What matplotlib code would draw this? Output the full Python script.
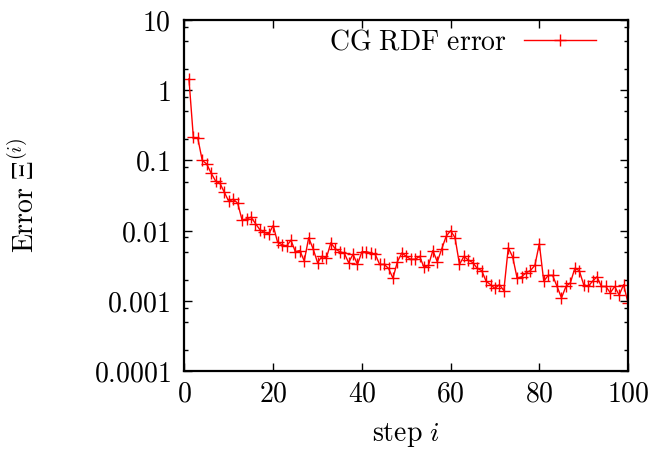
import matplotlib
matplotlib.use("Agg")
import matplotlib.pyplot as plt
from matplotlib.ticker import FixedLocator, FixedFormatter, LogLocator, NullFormatter, NullLocator

# values, steps 1..100
steps = list(range(1, 101))
rdf_error = [
    1.45, 0.212, 0.207, 0.100, 0.089, 0.066, 0.051, 0.047, 0.035, 0.026,
    0.028, 0.0245, 0.0140, 0.0147, 0.0155, 0.0126, 0.0103, 0.0094, 0.0090, 0.0118,
    0.0068, 0.0063, 0.0060, 0.0073, 0.0050, 0.0052, 0.0037, 0.0079, 0.0055, 0.0035,
    0.0043, 0.0041, 0.0067, 0.0055, 0.0050, 0.0048, 0.0035, 0.0046, 0.0033, 0.0050,
    0.0050, 0.0048, 0.0046, 0.0033, 0.0033, 0.0029, 0.0021, 0.0036, 0.0048, 0.0043,
    0.0039, 0.0039, 0.0043, 0.0030, 0.0032, 0.0052, 0.0036, 0.0055, 0.0083, 0.0100,
    0.0079, 0.0033, 0.0043, 0.0038, 0.0035, 0.0029, 0.0027, 0.0019, 0.0017, 0.0015,
    0.0017, 0.0014, 0.0057, 0.0042, 0.0021, 0.0022, 0.0025, 0.0027, 0.0032, 0.0065,
    0.0019, 0.0023, 0.0023, 0.0016, 0.00110, 0.0016, 0.0018, 0.0029, 0.0027, 0.0017,
    0.0016, 0.0019, 0.0022, 0.0016, 0.0016, 0.0013, 0.0016, 0.0012, 0.0017, 0.00093,
]

x_ticks = [0, 20, 40, 60, 80, 100]
x_labels = ["0", "20", "40", "60", "80", "100"]
y_ticks = [1e-4, 1e-3, 1e-2, 1e-1, 1, 10]
y_labels = ["0.0001", "0.001", "0.01", "0.1", "1", "10"]

plt.rcParams["mathtext.fontset"] = "cm"
plt.rcParams["font.family"] = ["DejaVu Serif"]
FS = 20

fig = plt.figure(figsize=(6.51, 4.49), dpi=100)
ax = fig.add_axes([0.2834, 0.1737, 0.6813, 0.7818])

ax.plot(steps, rdf_error, color="#ff0000", lw=1.0, marker="+", ms=8, mew=1.0,
        label=r"$\mathrm{CG\ RDF\ error}$")

ax.set_yscale("log")
ax.set_xlim(0, 100)
ax.set_ylim(1e-4, 10)

ax.xaxis.set_major_locator(FixedLocator(x_ticks))
ax.xaxis.set_major_formatter(FixedFormatter(["$%s$" % s for s in x_labels]))
ax.xaxis.set_minor_locator(NullLocator())
ax.yaxis.set_major_locator(FixedLocator(y_ticks))
ax.yaxis.set_major_formatter(FixedFormatter(["$%s$" % s for s in y_labels]))
ax.yaxis.set_minor_locator(LogLocator(base=10, subs=(2, 5, 8)))
ax.yaxis.set_minor_formatter(NullFormatter())

ax.tick_params(which="both", direction="in", top=True, right=True, width=1.0)
ax.tick_params(which="major", length=6)
ax.tick_params(which="minor", length=3)
ax.tick_params(axis="x", labelsize=FS, pad=7)
ax.tick_params(axis="y", labelsize=FS, pad=10)
for sp in ax.spines.values():
    sp.set_linewidth(1.6)

ax.set_xlabel(r"$\mathrm{step}\ i$", fontsize=FS)
ax.xaxis.set_label_coords(0.5, -0.143)
ax.set_ylabel(r"$\mathrm{Error}\ \Xi^{(i)}$", fontsize=FS)
ax.yaxis.set_label_coords(-0.325, 0.5)

ax.legend(loc="center right", bbox_to_anchor=(0.928, 0.937), frameon=False,
          fontsize=FS, markerfirst=False, handlelength=2.6, handletextpad=0.6,
          borderpad=0, borderaxespad=0)

fig.savefig("out.png", dpi=100)
plt.close(fig)
